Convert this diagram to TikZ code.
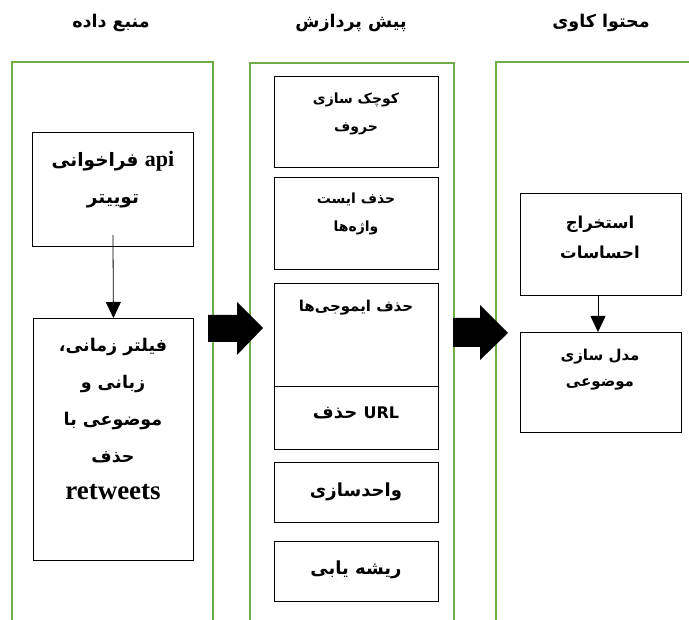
\documentclass[tikz,border=0pt]{standalone}
\usepackage{fontspec}
\usetikzlibrary{arrows.meta}
\TeXXeTstate=1
\newfontfamily\fa[Script=Arabic]{DejaVu Sans}
\newfontfamily\latserif{Liberation Serif}
\newfontfamily\latsans{DejaVu Sans}
\newcommand\rl[1]{\beginR#1\endR}
\definecolor{colgreen}{RGB}{112,173,71}
\begin{document}
\begin{tikzpicture}[x=1pt,y=-1pt,
  col/.style={draw=colgreen,line width=2pt},
  box/.style={draw=black,line width=0.9pt,anchor=north west,inner sep=0pt},
  txt/.style={align=center,inner sep=0pt,text=black},
  ttl/.style={txt,font=\fa\bfseries\fontsize{17.5}{20}\selectfont},
  small/.style={txt,font=\fa\bfseries\fontsize{14}{28}\selectfont},
  mid/.style={txt,font=\fa\bfseries\fontsize{15}{30}\selectfont},
  midb/.style={txt,font=\fa\bfseries\fontsize{18}{30}\selectfont},
  big/.style={txt,font=\fa\bfseries\fontsize{17.5}{37}\selectfont},
  flow/.style={draw=black,line width=0.8pt,-{Triangle[width=15pt,length=16pt]}},
  blockarrow/.style={fill=black}]
\useasboundingbox (0,0) rectangle (689,620);
% columns
\draw[col] (12,620) -- (12,62) -- (213,62) -- (213,620);
\draw[col] (250,620) -- (250,63) -- (454,63) -- (454,620);
\draw[col] (496,620) -- (496,62) -- (689,62);
% titles
\node[ttl] (t1) at (111,23) {\rl{منبع داده}};
\node[ttl] (t2) at (351,23) {\rl{پیش پردازش}};
\node[ttl] (t3) at (601,23) {\rl{محتوا کاوی}};
% left column
\node[box,minimum width=161pt,minimum height=114pt] (api) at (32,132) {};
\node[big,font=\fa\bfseries\fontsize{18.5}{37}\selectfont] (apit) at (113,180) {\rl{فراخوانی} {\latserif\bfseries\fontsize{22}{37}\selectfont api}\\\rl{توییتر}};
\node[box,minimum width=160pt,minimum height=242pt] (filter) at (33,318) {};
\node[big] (filtert) at (113,419) {\rl{فیلتر زمانی،}\\\rl{زبانی و}\\\rl{موضوعی با}\\\rl{حذف}\\{\latserif\bfseries\fontsize{27}{37}\selectfont retweets}};
\draw[flow] ([yshift=12pt]api.south) -- (filter.north);
% middle column
\node[box,minimum width=164pt,minimum height=91pt] (a) at (274,76) {};
\node[small] (at) at (356,114) {\rl{کوچک سازی}\\\rl{حروف}};
\node[box,minimum width=164pt,minimum height=92pt] (b) at (274,177) {};
\node[small] (bt) at (356,214) {\rl{حذف ایست}\\\rl{واژه‌ها}};
\node[box,minimum width=164pt,minimum height=103pt] (c) at (274,283) {};
\node[mid] (ct) at (356,308) {\rl{حذف ایموجی‌ها}};
\node[box,minimum width=164pt,minimum height=63pt] (d) at (274,386) {};
\node[midb] (dt) at (356,413) {\rl{حذف} {\latsans\bfseries\fontsize{16}{30}\selectfont URL}};
\node[box,minimum width=164pt,minimum height=60pt] (e) at (274,462) {};
\node[midb] (et) at (356,492) {\rl{واحدسازی}};
\node[box,minimum width=164pt,minimum height=60pt] (f) at (274,541) {};
\node[midb] (ft) at (356,570) {\rl{ریشه یابی}};
% right column
\node[box,minimum width=161pt,minimum height=102pt] (g) at (520,193) {};
\node[mid,font=\fa\bfseries\fontsize{16.5}{30}\selectfont] (gt) at (600,237) {\rl{استخراج}\\\rl{احساسات}};
\node[box,minimum width=161pt,minimum height=100pt] (h) at (520,332) {};
\node[mid,font=\fa\bfseries\fontsize{15}{26}\selectfont] (ht) at (600,370) {\rl{مدل سازی}\\\rl{موضوعی}};
\draw[flow] (g.south -| 598,0) -- (h.north -| 598,0);
% block arrows
\fill[blockarrow] (208,315) -- (237,315) -- (237,302) -- (263,328) -- (237,355) -- (237,342) -- (208,342) -- cycle;
\fill[blockarrow] (453,318) -- (480,318) -- (480,305) -- (508,333) -- (480,360) -- (480,347) -- (453,347) -- cycle;
\end{tikzpicture}
\end{document}
